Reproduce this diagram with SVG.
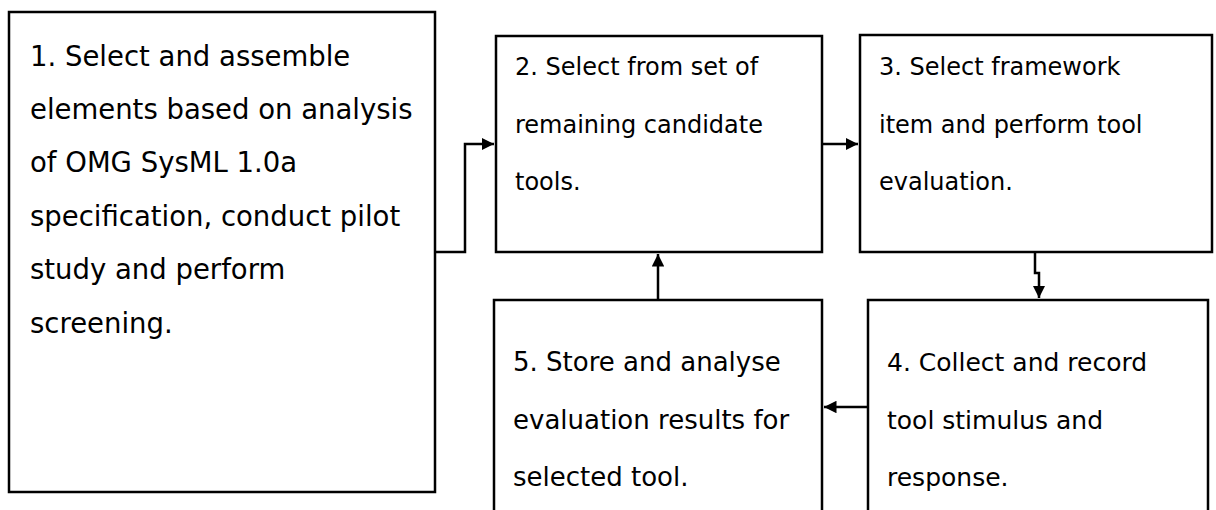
<svg xmlns="http://www.w3.org/2000/svg" width="1216" height="510" viewBox="0 0 1216 510">
<style>
.box{fill:none;stroke:#000;stroke-width:2.5}
.t{font-family:"DejaVu Sans",Verdana,sans-serif;font-size:24px;fill:#000}
.t1{font-size:27.5px}
.t4{font-size:25px}
.t5{font-size:26px}
.c{fill:none;stroke:#000;stroke-width:2.5}
</style>
<defs>
<marker id="ah" viewBox="0 0 10 10" refX="10" refY="5" markerWidth="5" markerHeight="5" orient="auto" markerUnits="strokeWidth">
<path d="M0,0 L10,5 L0,10 Z" fill="#000"/>
</marker>
</defs>
<rect width="1216" height="510" fill="#fff"/>
<g id="node1">
<rect class="box" x="9" y="12" width="426" height="480"/>
<text class="t t1" x="30" y="66">1. Select and assemble</text>
<text class="t t1" x="30" y="119">elements based on analysis</text>
<text class="t t1" x="30" y="172">of OMG SysML 1.0a</text>
<text class="t t1" x="30" y="226">specification, conduct pilot</text>
<text class="t t1" x="30" y="279">study and perform</text>
<text class="t t1" x="30" y="333">screening.</text>
</g>
<g id="node2">
<rect class="box" x="496" y="36" width="326" height="216"/>
<text class="t" x="515" y="75">2. Select from set of</text>
<text class="t" x="515" y="133">remaining candidate</text>
<text class="t" x="515" y="190">tools.</text>
</g>
<g id="node3">
<rect class="box" x="860" y="35" width="352" height="217"/>
<text class="t" x="879" y="75">3. Select framework</text>
<text class="t" x="879" y="133">item and perform tool</text>
<text class="t" x="879" y="190">evaluation.</text>
</g>
<g id="node4">
<path class="box" d="M868,512 V300 H1208 V512"/>
<text class="t t4" x="887" y="371">4. Collect and record</text>
<text class="t t4" x="887" y="429">tool stimulus and</text>
<text class="t t4" x="887" y="486">response.</text>
</g>
<g id="node5">
<path class="box" d="M494,512 V300 H822 V512"/>
<text class="t t5" x="513" y="371">5. Store and analyse</text>
<text class="t t5" x="513" y="429">evaluation results for</text>
<text class="t t5" x="513" y="486">selected tool.</text>
</g>
<g id="connectors">
<path class="c" d="M435,252 H465 V144 H494" marker-end="url(#ah)"/>
<path class="c" d="M822,144 H858" marker-end="url(#ah)"/>
<path class="c" d="M1035,252 V273 H1039 V298" marker-end="url(#ah)"/>
<path class="c" d="M658,300 V254" marker-end="url(#ah)"/>
<path class="c" d="M868,407 H824" marker-end="url(#ah)"/>
</g>
</svg>
